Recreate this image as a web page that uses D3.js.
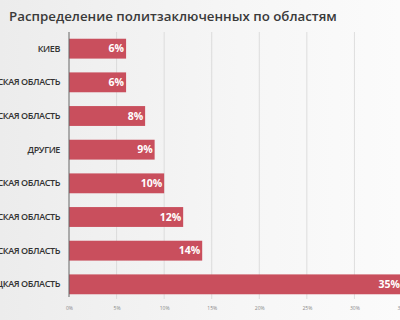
<!DOCTYPE html>
<html lang="ru">
<head>
<meta charset="UTF-8">
<script src="https://d3js.org/d3.v7.min.js"></script>
<style>
  body { margin: 0; }
  svg { display: block; }
</style>
</head>
<body>
<svg width="400" height="320"></svg>
<script>
// chart data
const categories = ["КИЕВ", "КИЕВСКАЯ ОБЛАСТЬ", "ОДЕССКАЯ ОБЛАСТЬ", "ДРУГИЕ",
  "ХАРЬКОВСКАЯ ОБЛАСТЬ", "ЛУГАНСКАЯ ОБЛАСТЬ", "ЛЬВОВСКАЯ ОБЛАСТЬ", "ДОНЕЦКАЯ ОБЛАСТЬ"];
const shares = [6, 6, 8, 9, 10, 12, 14, 35];
const tickValues = [0, 5, 10, 15, 20, 25, 30, 35];
const title = "Распределение политзаключенных по областям";

const svg = d3.select("svg");

// background gradient
const defs = svg.append("defs");
const bg = defs.append("linearGradient").attr("id", "bg")
  .attr("x1", 0).attr("y1", 0).attr("x2", 1).attr("y2", 0);
bg.append("stop").attr("offset", "0%").attr("stop-color", "#ececec");
bg.append("stop").attr("offset", "60%").attr("stop-color", "#f6f6f6");
bg.append("stop").attr("offset", "100%").attr("stop-color", "#fbfbfb");
svg.append("rect").attr("width", 400).attr("height", 320).attr("fill", "url(#bg)");

svg.append("text")
  .attr("x", 9).attr("y", 21)
  .attr("font-family", "Open Sans")
  .attr("font-weight", 600)
  .attr("font-size", 13.3)
  .attr("fill", "#3a3a3a")
  .text(title);

const x = d3.scaleLinear().domain([0, 35]).range([69, 402]);
const y = d3.scaleBand().domain(categories).range([32, 301]).paddingInner(0.41).paddingOuter(0.2);

// grid lines
svg.append("g").selectAll("line")
  .data(tickValues.slice(1))
  .join("line")
  .attr("x1", d => x(d)).attr("x2", d => x(d))
  .attr("y1", 32).attr("y2", 299)
  .attr("stroke", "#d6d6d6")
  .attr("stroke-width", 0.8);

// bars
svg.append("g").selectAll("rect")
  .data(shares)
  .join("rect")
  .attr("x", x(0))
  .attr("y", (d, i) => y(categories[i]))
  .attr("width", d => x(d) - x(0))
  .attr("height", y.bandwidth())
  .attr("fill", "#c94f5d");

// value labels
svg.append("g").selectAll("text")
  .data(shares)
  .join("text")
  .attr("x", d => x(d) - 2)
  .attr("y", (d, i) => y(categories[i]) + y.bandwidth() / 2)
  .attr("dy", "0.36em")
  .attr("text-anchor", "end")
  .attr("font-family", "Open Sans")
  .attr("font-weight", 700)
  .attr("font-size", 10.5)
  .attr("fill", "#ffffff")
  .text(d => d + "%");

// category axis
const yAxis = svg.append("g")
  .attr("transform", `translate(${x(0)},0)`)
  .call(d3.axisLeft(y).tickSize(0).tickPadding(9));
yAxis.select(".domain").remove();
yAxis.selectAll("text")
  .attr("font-family", "Open Sans")
  .attr("font-weight", 600)
  .attr("font-size", 9)
  .attr("fill", "#333")
  .attr("letter-spacing", -0.4);
svg.append("line")
  .attr("x1", x(0)).attr("x2", x(0))
  .attr("y1", 32).attr("y2", 297)
  .attr("stroke", "#666").attr("stroke-width", 1);

// value axis
const xAxis = svg.append("g")
  .attr("transform", "translate(0,299)")
  .call(d3.axisBottom(x).tickValues(tickValues).tickFormat(d => d + "%").tickSize(0).tickPadding(7));
xAxis.select(".domain").remove();
xAxis.selectAll("text")
  .attr("font-family", "Open Sans")
  .attr("font-size", 5)
  .attr("fill", "#888");
</script>
</body>
</html>
